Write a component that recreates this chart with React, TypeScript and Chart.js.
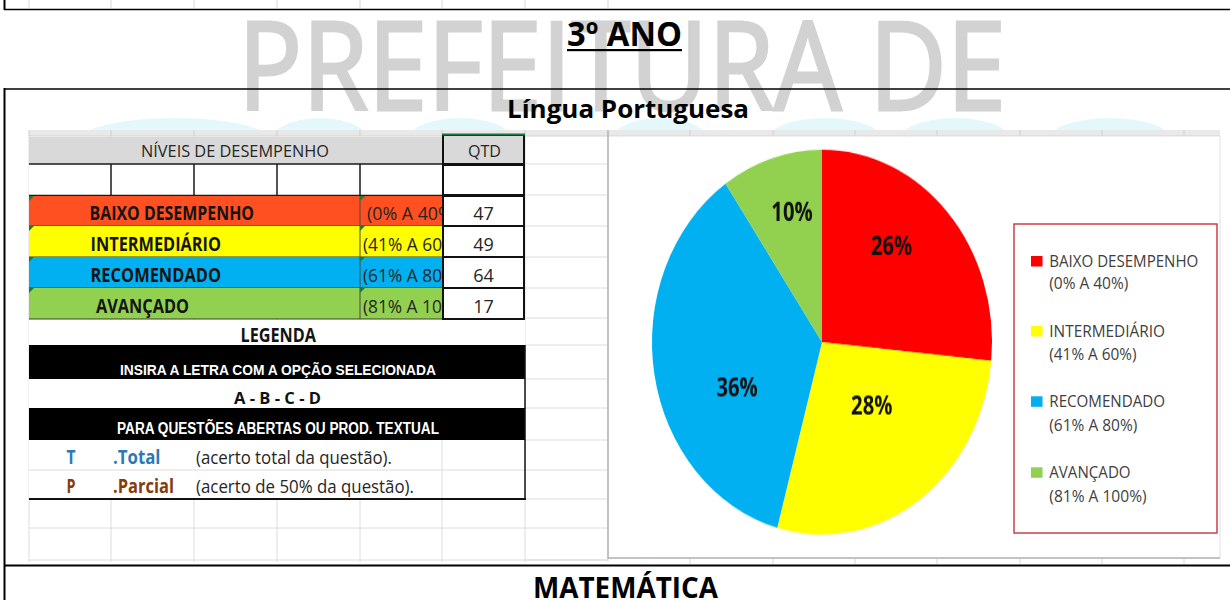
import React, { useEffect, useRef } from "react";
import { Chart, registerables } from "chart.js";

Chart.register(...registerables);

// ---------------- data ----------------
const categories = ["BAIXO DESEMPENHO", "INTERMEDIÁRIO", "RECOMENDADO", "AVANÇADO"];
const ranges = ["(0% A 40%)", "(41% A 60%)", "(61% A 80%)", "(81% A 100%)"];
const quantities = [47, 49, 64, 17];
const percentLabels = ["26%", "28%", "36%", "10%"];
const sliceColors = ["#FF0000", "#FFFF00", "#00B0F0", "#92D050"];
const rowColors = ["#FF5022", "#FFFF00", "#00B0F0", "#92D050"];

// ---------------- layout / style ----------------
const CAL = "'Open Sans', 'Noto Sans', sans-serif";
const ARN = "'Liberation Sans', Arial, sans-serif";

const rowTops = [196, 226, 257, 288];
const rowBottom = 319;
const rowBase = [220, 251, 282, 313];
const rowLabelX = [89.5, 90.5, 90.5, 96];
const rowLabelW = [164.5, 130.5, 130.5, 93];
const rangeX = [367, 363, 363, 363];
const rangeW = [91, 98.5, 98.5, 108];

const legNameBase = [266.7, 336.7, 407, 478];
const legRangeBase = [289, 360, 430.7, 501.7];
const legNameW = [149, 115.7, 115.7, 81.3];
const legRangeW = [79, 87.3, 88, 97.3];

const colX = [29, 111, 194, 277, 360, 442, 525, 608];
const farColX = [690, 773, 855, 937, 1020, 1102, 1184];
const gridYRight = [164, 195, 226, 257, 288, 318, 345, 379, 408, 440, 470, 499, 528, 560];

const labelPlugin = {
  id: "sliceLabels",
  afterDatasetsDraw(chart: any, _args: any, opts: any) {
    const meta = chart.getDatasetMeta(0);
    const ctx = chart.ctx;
    const fs = opts.size || 23.5;
    meta.data.forEach((arc: any, i: number) => {
      const p = arc.getProps(["x", "y", "startAngle", "endAngle", "outerRadius"], true);
      const adj = (opts.adjust && opts.adjust[i]) || { da: 0, rf: 0.6 };
      const mid = (p.startAngle + p.endAngle) / 2 + (adj.da * Math.PI) / 180;
      const r = p.outerRadius * adj.rf;
      const px = p.x + Math.cos(mid) * r;
      const py = p.y + Math.sin(mid) * r;
      ctx.save();
      ctx.translate(px, py + fs * 0.357);
      ctx.scale(0.86, 1);
      ctx.font = `bold ${fs}px ${CAL}`;
      ctx.textAlign = "center";
      ctx.textBaseline = "alphabetic";
      ctx.fillStyle = "#111111";
      ctx.fillText(percentLabels[i], 0, 0);
      ctx.restore();
    });
  },
};

function PieChart() {
  const ref = useRef<HTMLCanvasElement>(null);
  useEffect(() => {
    const chart = new Chart(ref.current as HTMLCanvasElement, {
      type: "pie",
      data: {
        labels: categories,
        datasets: [
          {
            data: quantities,
            backgroundColor: sliceColors,
            borderWidth: 0,
            hoverOffset: 0,
          },
        ],
      },
      options: {
        responsive: false,
        animation: false,
        events: [],
        layout: { padding: 5 },
        plugins: {
          legend: { display: false },
          tooltip: { enabled: false },
          sliceLabels: {
            size: 23.5,
            adjust: [
              { da: -8.8, rf: 0.65 },
              { da: -7.1, rf: 0.44 },
              { da: -15.1, rf: 0.55 },
              { da: 2.7, rf: 0.7 },
            ],
          },
        } as any,
      },
      plugins: [labelPlugin as any],
    });
    return () => chart.destroy();
  }, []);
  return (
    <canvas
      ref={ref}
      width={400}
      height={350}
      style={{ width: 400, height: 350, display: "block" }}
    />
  );
}

function Txt(props: any) {
  const { x, y, w, size, bold, color, font, anchor, children, stroke, sw } = props;
  const extra: any = w ? { textLength: w, lengthAdjust: "spacingAndGlyphs" } : {};
  if (stroke) {
    extra.stroke = stroke;
    extra.strokeWidth = sw || 1;
  }
  return (
    <text
      x={x}
      y={y}
      fontSize={size}
      fontWeight={bold ? 700 : 400}
      fill={color || "#262626"}
      fontFamily={font || CAL}
      textAnchor={anchor || "start"}
      {...extra}
    >
      {children}
    </text>
  );
}

export default function App() {
  const blobs = [
    [175, 95],
    [320, 48],
    [460, 52],
    [660, 48],
    [825, 58],
    [955, 56],
    [1110, 62],
  ];
  return (
    <div
      style={{
        position: "absolute",
        left: 0,
        top: 0,
        width: 1230,
        height: 600,
        background: "#ffffff",
        overflow: "hidden",
      }}
    >
      <svg width={1230} height={600} style={{ position: "absolute", left: 0, top: 0 }}>
        {/* watermark */}
        <Txt x={238} y={110} w={768} size={122} color="#d2d2d2" stroke="#d2d2d2" sw={3}>
          PREFEITURA DE
        </Txt>
        {blobs.map((b, i) => (
          <ellipse key={"bl" + i} cx={b[0]} cy={140} rx={b[1]} ry={22} fill="#e4f8fc" />
        ))}

        {/* excel screenshot background */}
        <rect x={5} y={130} width={1225} height={435} fill="#ffffff" />
        <rect x={29} y={130} width={1191} height={6} fill="#e9e9e9" />
        <line x1={29} y1={136} x2={1220} y2={136} stroke="#d2d2d2" strokeWidth={1} />
        {colX.concat(farColX).map((x) => (
          <line key={"hs" + x} x1={x} y1={130} x2={x} y2={136} stroke="#cfcfcf" strokeWidth={1} />
        ))}
        {colX.map((x) => (
          <line key={"gv" + x} x1={x} y1={136} x2={x} y2={562} stroke="#dcdcdc" strokeWidth={1} />
        ))}
        {gridYRight.map((y) => (
          <line key={"gh" + y} x1={525} y1={y} x2={608} y2={y} stroke="#dcdcdc" strokeWidth={1} />
        ))}
        <line x1={29} y1={528} x2={525} y2={528} stroke="#dcdcdc" strokeWidth={1} />
        <line x1={29} y1={560} x2={608} y2={560} stroke="#dcdcdc" strokeWidth={1} />

        {/* header row */}
        <rect x={29} y={137} width={413} height={27} fill="#d9d9d9" />
        <Txt x={141} y={157} w={188} size={16.8}>
          NÍVEIS DE DESEMPENHO
        </Txt>

        {/* empty row */}
        <rect x={29} y={164} width={413} height={31} fill="#ffffff" />
        {[111, 194, 277, 360].map((x) => (
          <line key={"ev" + x} x1={x} y1={164} x2={x} y2={195} stroke="#1a1a1a" strokeWidth={1.5} />
        ))}
        <line x1={29} y1={164} x2={442} y2={164} stroke="#1a1a1a" strokeWidth={1.5} />
        <line x1={29} y1={195.5} x2={442} y2={195.5} stroke="#1a1a1a" strokeWidth={1.5} />

        {/* coloured rows */}
        {categories.map((c, i) => {
          const top = rowTops[i];
          const bottom = i < 3 ? rowTops[i + 1] : rowBottom;
          return (
            <g key={"row" + i}>
              <rect x={29} y={top} width={413} height={bottom - top} fill={rowColors[i]} />
              <line x1={360} y1={top} x2={360} y2={bottom} stroke="#4a4a4a" strokeWidth={1} />
              <line x1={29} y1={bottom} x2={442} y2={bottom} stroke="#3a3a3a" strokeWidth={1} />
              <polygon points={`29,${top} 34,${top} 29,${top + 5}`} fill="#1e7a3c" />
              <polygon points={`360,${top} 365,${top} 360,${top + 5}`} fill="#1e7a3c" />
              <Txt x={rowLabelX[i]} y={rowBase[i]} w={rowLabelW[i]} size={19} bold color="#141414">
                {c}
              </Txt>
              <Txt x={rangeX[i]} y={rowBase[i]} w={rangeW[i]} size={19} color="#262626">
                {ranges[i]}
              </Txt>
            </g>
          );
        })}

        {/* QTD column */}
        <rect x={443} y={135} width={81} height={29} fill="#d9d9d9" stroke="#111" strokeWidth={2} />
        <line x1={442} y1={134.5} x2={525} y2={134.5} stroke="#217346" strokeWidth={2} />
        <Txt x={468} y={157} w={33} size={16.8}>
          QTD
        </Txt>
        <rect x={443} y={165} width={81} height={30} fill="#ffffff" stroke="#111" strokeWidth={2} />
        {quantities.map((q, i) => {
          const top = rowTops[i];
          const bottom = i < 3 ? rowTops[i + 1] : rowBottom;
          return (
            <g key={"q" + i}>
              <rect x={443} y={top} width={81} height={bottom - top} fill="#ffffff" stroke="#111" strokeWidth={2} />
              <Txt x={483.5} y={rowBase[i] - 0.5} size={18} anchor="middle" color="#262626">
                {String(q)}
              </Txt>
            </g>
          );
        })}

        {/* legend section */}
        <rect x={29} y={320} width={496} height={179} fill="#ffffff" />
        <Txt x={240.5} y={342} w={75.5} size={19} bold color="#141414">
          LEGENDA
        </Txt>
        <rect x={29} y={345} width={496} height={34} fill="#000000" />
        <Txt x={120} y={374.5} w={316} size={15.5} bold font={ARN} color="#ffffff">
          INSIRA A LETRA COM A OPÇÃO SELECIONADA
        </Txt>
        <Txt x={234} y={404} w={87} size={16} bold color="#111111">
          A - B - C - D
        </Txt>
        <rect x={29} y={408} width={496} height={32} fill="#000000" />
        <Txt x={117} y={433.5} w={322} size={16} bold font={ARN} color="#ffffff">
          PARA QUESTÕES ABERTAS OU PROD. TEXTUAL
        </Txt>
        <line x1={29} y1={470} x2={525} y2={470} stroke="#dcdcdc" strokeWidth={1} />
        <line x1={442} y1={440} x2={442} y2={499} stroke="#dcdcdc" strokeWidth={1} />
        <Txt x={66.5} y={463.5} w={9} size={19} bold color="#2a7ab8">
          T
        </Txt>
        <Txt x={113} y={463.5} w={47.5} size={19} bold color="#2a7ab8">
          .Total
        </Txt>
        <Txt x={196} y={463.5} w={196} size={19} color="#262626">
          (acerto total da questão).
        </Txt>
        <Txt x={66.5} y={493} w={9} size={19} bold color="#843c0c">
          P
        </Txt>
        <Txt x={113} y={493} w={61} size={19} bold color="#843c0c">
          .Parcial
        </Txt>
        <Txt x={196} y={493} w={218} size={19} color="#262626">
          (acerto de 50% da questão).
        </Txt>
        <line x1={525} y1={345} x2={525} y2={500} stroke="#111" strokeWidth={1.5} />
        <line x1={29} y1={499} x2={526} y2={499} stroke="#111" strokeWidth={2} />

        {/* chart area */}
        <rect x={608} y={136} width={612} height={422} fill="#ffffff" stroke="#e0e0e0" strokeWidth={1} />
        <line x1={608} y1={130} x2={608} y2={559} stroke="#b4b4b4" strokeWidth={1.5} />
        <line x1={608} y1={558} x2={1220} y2={558} stroke="#b4b4b4" strokeWidth={1.5} />
        {farColX.map((x) => (
          <line key={"bt" + x} x1={x} y1={559} x2={x} y2={564} stroke="#d8d8d8" strokeWidth={1} />
        ))}

        {/* chart legend */}
        <rect x={1014} y={224} width={203} height={309} fill="#ffffff" stroke="#c8414b" strokeWidth={1.5} />
        {categories.map((c, i) => (
          <g key={"lg" + i}>
            <rect x={1031} y={legNameBase[i] - 10.7} width={11.5} height={10.5} fill={sliceColors[i]} />
            <Txt x={1049.3} y={legNameBase[i]} w={legNameW[i]} size={16.4} color="#404040">
              {c}
            </Txt>
            <Txt x={1049.3} y={legRangeBase[i]} w={legRangeW[i]} size={16.4} color="#404040">
              {ranges[i]}
            </Txt>
          </g>
        ))}

        {/* titles */}
        <Txt x={567} y={46} w={115} size={33.6} bold color="#000000">
          3º ANO
        </Txt>
        <rect x={567} y={49} width={115} height={2.2} fill="#000000" />
        <Txt x={507} y={118} w={242} size={25} bold color="#000000">
          Língua Portuguesa
        </Txt>
        <Txt x={533} y={598} w={185} size={29.4} bold color="#000000">
          MATEMÁTICA
        </Txt>

        {/* frame lines */}
        <line x1={4} y1={9.5} x2={1230} y2={9.5} stroke="#000" strokeWidth={1.5} />
        <line x1={4.5} y1={0} x2={4.5} y2={10} stroke="#000" strokeWidth={2} />
        {colX.map((x) => (
          <line key={"tv" + x} x1={x} y1={0} x2={x} y2={8} stroke="#d6d6d6" strokeWidth={1} />
        ))}
        <line x1={4} y1={89} x2={1230} y2={89} stroke="#000" strokeWidth={1.5} />
        <line x1={4.5} y1={88} x2={4.5} y2={600} stroke="#000" strokeWidth={2} />
        <line x1={4} y1={565.5} x2={1230} y2={565.5} stroke="#000" strokeWidth={2} />
      </svg>
      <div
        style={{
          position: "absolute",
          left: 622,
          top: 144,
          width: 400,
          height: 350,
          transform: "scaleY(1.132)",
          transformOrigin: "0 0",
        }}
      >
        <PieChart />
      </div>
    </div>
  );
}
